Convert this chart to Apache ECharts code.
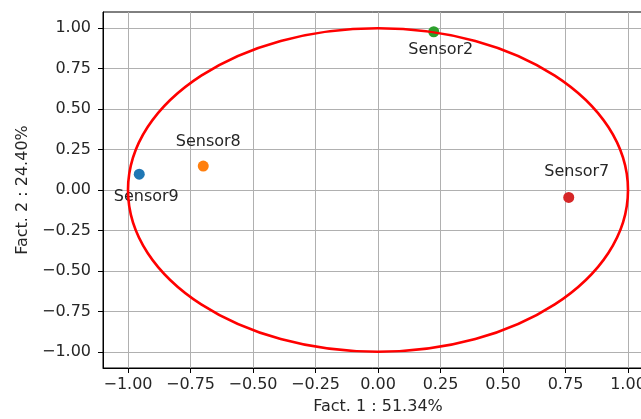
<!DOCTYPE html>
<html>
<head>
<meta charset="utf-8">
<script src="https://cdn.jsdelivr.net/npm/echarts@6/dist/echarts.min.js"></script>
<style>
  html, body { margin: 0; padding: 0; background: #fff; }
  #chart { width: 641px; height: 419px; }
</style>
</head>
<body>
<div id="chart"></div>
<script>
// sensors, in plotting order
var sensorNames = ["Sensor9", "Sensor8", "Sensor2", "Sensor7"];
var fact1 = [-0.955, -0.699, 0.223, 0.763];
var fact2 = [0.098, 0.148, 0.978, -0.046];
// unit circle: centre x, centre y, radius
var circle = [[0, 0, 1]];
var xTicks = [-1, -0.75, -0.5, -0.25, 0, 0.25, 0.5, 0.75, 1];
var yTicks = [-1, -0.75, -0.5, -0.25, 0, 0.25, 0.5, 0.75, 1];

var colors = ["#1f77b4", "#ff7f0e", "#2ca02c", "#d62728"];
// where each annotation sits relative to its dot (px)
var labelOffset = {
  Sensor9: [7, 23],
  Sensor8: [5, -24],
  Sensor2: [7, 18],
  Sensor7: [8, -26]
};

var font = "DejaVu Sans";
var fontSize = 16;

function fmt(v) {
  var s = Math.abs(v).toFixed(2);
  return v < 0 ? "\u2212" + s : s;
}

function axisBase(ticks, name) {
  return {
    type: "value",
    min: -1.1,
    max: 1.1,
    name: name,
    nameLocation: "middle",
    nameTextStyle: { fontFamily: font, fontSize: fontSize, color: "#262626" },
    axisLine: { show: true, onZero: false, lineStyle: { color: "#000", width: 1 } },
    axisTick: { show: true, inside: false, length: 5, customValues: ticks, lineStyle: { color: "#000" } },
    axisLabel: {
      customValues: ticks,
      formatter: fmt,
      fontFamily: font,
      fontSize: fontSize,
      color: "#262626"
    },
    splitLine: { show: true, lineStyle: { color: "#b0b0b0", width: 1 } }
  };
}

var xAxis = axisBase(xTicks, "Fact. 1 : 51.34%");
xAxis.nameGap = 31;
xAxis.axisLabel.margin = 9;
var yAxis = axisBase(yTicks, "Fact. 2 : 24.40%");
yAxis.nameGap = 72;
yAxis.axisLabel.margin = 12;

var series = sensorNames.map(function (n, i) {
  return {
    name: n,
    type: "scatter",
    symbolSize: 11,
    z: 2,
    itemStyle: { color: colors[i], opacity: 1 },
    label: {
      show: true,
      position: "inside",
      offset: labelOffset[n],
      formatter: n,
      fontFamily: font,
      fontSize: fontSize,
      color: "#262626"
    },
    data: [[fact1[i], fact2[i]]]
  };
});

series.push({
  name: "circle",
  type: "custom",
  z: 3,
  silent: true,
  clip: false,
  data: circle,
  renderItem: function (params, api) {
    var c = api.coord([api.value(0), api.value(1)]);
    var r = api.size([api.value(2), api.value(2)]);
    return {
      type: "ellipse",
      shape: { cx: c[0], cy: c[1], rx: r[0], ry: r[1] },
      style: { fill: null, stroke: "#ff0000", lineWidth: 2.6 }
    };
  }
});

var chart = echarts.init(document.getElementById("chart"));
chart.setOption({
  animation: false,
  backgroundColor: "#fff",
  grid: {
    left: 103,
    top: 12,
    width: 550,
    height: 356,
    show: true,
    borderColor: "#000",
    borderWidth: 1,
    containLabel: false,
    outerBoundsMode: "none"
  },
  xAxis: xAxis,
  yAxis: yAxis,
  series: series
});
</script>
</body>
</html>
